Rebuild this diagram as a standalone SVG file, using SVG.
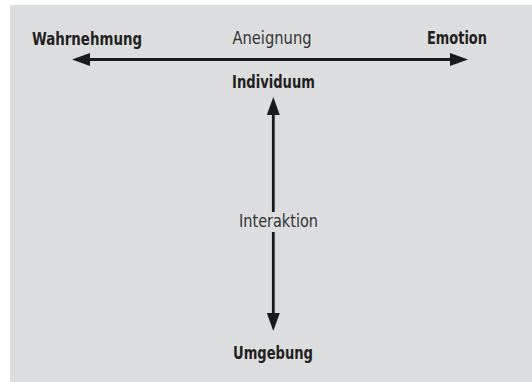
<svg xmlns="http://www.w3.org/2000/svg" width="532" height="382" viewBox="0 0 532 382">
  <style>
    .lbl { font-family: "Liberation Sans Narrow", "DejaVu Sans Condensed", "Liberation Sans", sans-serif; font-size: 17px; fill: #231f20; }
    .b { font-weight: bold; }
    .r { font-weight: normal; fill: #333333; }
    .conn { stroke: #1a1a1a; stroke-width: 2.8; fill: none; }
  </style>
  <defs>
    <marker id="head" markerUnits="userSpaceOnUse" markerWidth="18" markerHeight="13" refX="0" refY="6.5" orient="auto-start-reverse" overflow="visible">
      <path d="M0,0 L18,6.5 L0,13 Z" fill="#1a1a1a"/>
    </marker>
  </defs>
  <rect x="10" y="5" width="522" height="377" fill="#dcdddf"/>
  <g id="connectors">
    <path class="conn" d="M90,59.5 H450" marker-start="url(#head)" marker-end="url(#head)"/>
    <path class="conn" d="M273.3,115 V212" marker-start="url(#head)"/>
    <path class="conn" d="M273.3,232 V313" marker-end="url(#head)"/>
  </g>
  <g id="wahrnehmung"><text class="lbl b" x="32" y="45" textLength="110" lengthAdjust="spacingAndGlyphs">Wahrnehmung</text></g>
  <g id="aneignung"><text class="lbl r" x="232.5" y="44" textLength="79" lengthAdjust="spacingAndGlyphs">Aneignung</text></g>
  <g id="emotion"><text class="lbl b" x="427" y="44" textLength="60" lengthAdjust="spacingAndGlyphs">Emotion</text></g>
  <g id="individuum"><text class="lbl b" x="232" y="87.5" textLength="83" lengthAdjust="spacingAndGlyphs">Individuum</text></g>
  <g id="interaktion"><text class="lbl r" x="239" y="226.7" textLength="79" lengthAdjust="spacingAndGlyphs">Interaktion</text></g>
  <g id="umgebung"><text class="lbl b" x="233" y="358.5" textLength="80" lengthAdjust="spacingAndGlyphs">Umgebung</text></g>
</svg>
